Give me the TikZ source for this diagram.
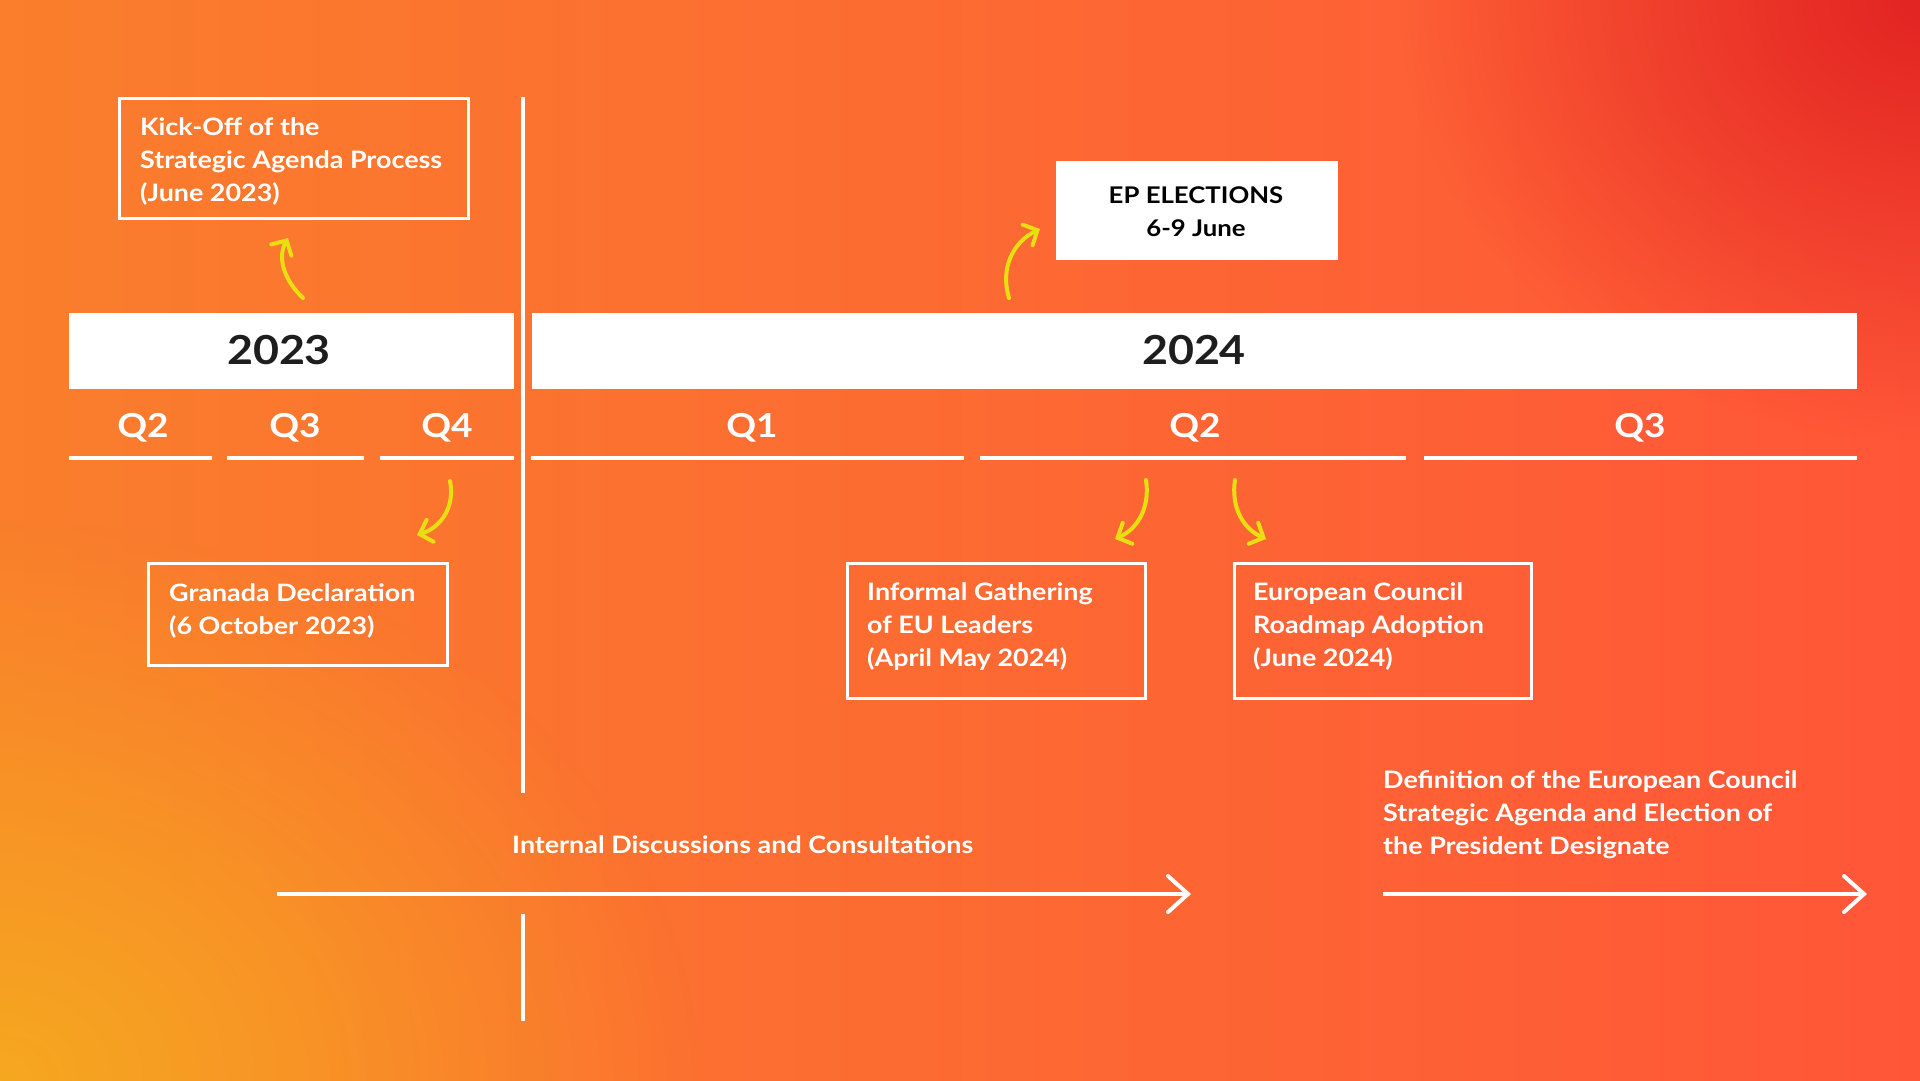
\documentclass[tikz,border=0pt]{standalone}
\usepackage{fontspec}
\setmainfont{Lato}[FakeStretch=1.12]
\usetikzlibrary{arrows.meta,fadings}

\definecolor{bgL}{RGB}{250,126,44}
\definecolor{bgR}{RGB}{255,86,56}
\definecolor{bgY}{RGB}{246,168,32}
\definecolor{bgRed}{RGB}{226,36,34}
\definecolor{ylw}{RGB}{232,222,18}
\definecolor{ink}{RGB}{30,30,30}

\tikzfading[name=glow, inner color=transparent!0, outer color=transparent!100]

\newcommand{\mlines}[1]{\begin{tabular}[t]{@{}l@{}}#1\end{tabular}}
\newcommand{\clines}[1]{\begin{tabular}[t]{@{}c@{}}#1\end{tabular}}

\begin{document}
\begin{tikzpicture}[x=1pt,y=-1pt,
  obox/.style={draw=white, line width=3pt, inner sep=0pt, outer sep=0pt, anchor=north west},
  wbar/.style={fill=white, draw=none, inner sep=0pt, outer sep=0pt, anchor=north west},
  btext/.style={font=\fontsize{24}{33}\selectfont\bfseries, text=white, inner sep=0pt, anchor=base west},
  eptext/.style={font=\fontsize{23}{33}\selectfont\bfseries, text=black, inner sep=0pt, anchor=base},
  qlab/.style={font=\fontsize{33}{36}\selectfont\bfseries, text=white, inner sep=0pt, anchor=base},
  ylab/.style={font=\fontsize{40}{42}\selectfont\bfseries, text=ink, inner sep=0pt, anchor=base},
  qline/.style={draw=white, line width=4.5pt},
  divline/.style={draw=white, line width=4pt},
  warrow/.style={draw=white, line width=4pt, -{Straight Barb[length=20pt,width=36pt,line cap=round]}},
  yarrow/.style={draw=ylw, line width=4pt, line cap=round, -{Straight Barb[length=11pt,width=23pt,line cap=round]}}
]
\useasboundingbox (0,0) rectangle (1920,1080);
% background
\shade[left color=bgL, right color=bgR] (0,0) rectangle (1920,1080);
\begin{scope}
  \clip (0,0) rectangle (1920,1080);
  \fill[bgY, path fading=glow] (0,1080) ellipse [x radius=700, y radius=560];
  \fill[bgRed, path fading=glow] (1920,0) ellipse [x radius=520, y radius=440];
\end{scope}

% year bars
\node[wbar, minimum width=445, minimum height=76] (bar23) at (69,313) {};
\node[wbar, minimum width=1325, minimum height=76] (bar24) at (532,313) {};
\node[ylab] (y23) at (279,364) {2023};
\node[ylab] (y24) at (1194,364) {2024};

% quarter labels and lines
\node[qlab] (q2a) at (143,437) {Q2};
\node[qlab] (q3a) at (295,437) {Q3};
\node[qlab] (q4a) at (447,437) {Q4};
\node[qlab] (q1b) at (752,437) {Q1};
\node[qlab] (q2b) at (1195,437) {Q2};
\node[qlab] (q3b) at (1640,437) {Q3};
\draw[qline] (69,458) -- (212,458);
\draw[qline] (227,458) -- (364,458);
\draw[qline] (380,458) -- (514,458);
\draw[qline] (531,458) -- (964,458);
\draw[qline] (980,458) -- (1406,458);
\draw[qline] (1424,458) -- (1857,458);

% divider
\draw[divline] (523,97) -- (523,793);
\draw[divline] (523,914) -- (523,1021);

% boxes
\node[obox, minimum width=349, minimum height=120] (kick) at (119.5,98.5) {};
\node[btext] (kickt) at (140,135) {\mlines{Kick-Off of the\\Strategic Agenda Process\\(June 2023)}};

\node[obox, minimum width=299, minimum height=102] (gran) at (148.5,563.5) {};
\node[btext] (grant) at (169,601) {\mlines{Granada Declaration\\(6 October 2023)}};

\node[obox, minimum width=298, minimum height=135] (inf) at (847.5,563.5) {};
\node[btext] (inft) at (867,600) {\mlines{Informal Gathering\\of EU Leaders\\(April May 2024)}};

\node[obox, minimum width=297, minimum height=135] (euc) at (1234.5,563.5) {};
\node[btext] (euct) at (1253,600) {\mlines{European Council\\Roadmap Adoption\\(June 2024)}};

\node[wbar, minimum width=282, minimum height=99] (ep) at (1056,161) {};
\node[eptext] (ept) at (1196,203) {\clines{EP ELECTIONS\\6-9 June}};

% yellow arrows
\coordinate (k1) at (303,298); \coordinate (k2) at (288,238);
\draw[yarrow] (k1) .. controls (282,278) and (278,256) .. (k2);
\coordinate (e1) at (1009,298); \coordinate (e2) at (1040,229);
\draw[yarrow] (e1) .. controls (1000,268) and (1013,242) .. (e2);
\coordinate (g1) at (450,481); \coordinate (g2) at (417,535);
\draw[yarrow] (g1) .. controls (455,506) and (442,527) .. (g2);
\coordinate (i1) at (1146,480); \coordinate (i2) at (1115,539);
\draw[yarrow] (i1) .. controls (1150,506) and (1139,528) .. (i2);
\coordinate (u1) at (1235,480); \coordinate (u2) at (1266,539);
\draw[yarrow] (u1) .. controls (1231,506) and (1242,528) .. (u2);

% process arrows
\node[btext] (intl) at (512,853) {Internal Discussions and Consultations};
\coordinate (a1s) at (277,894); \coordinate (a1e) at (1191,894);
\draw[warrow] (a1s) -- (a1e);
\node[btext] (defl) at (1383,788) {\mlines{Definition of the European Council\\Strategic Agenda and Election of\\the President Designate}};
\coordinate (a2s) at (1383,894); \coordinate (a2e) at (1867,894);
\draw[warrow] (a2s) -- (a2e);
\end{tikzpicture}
\end{document}
